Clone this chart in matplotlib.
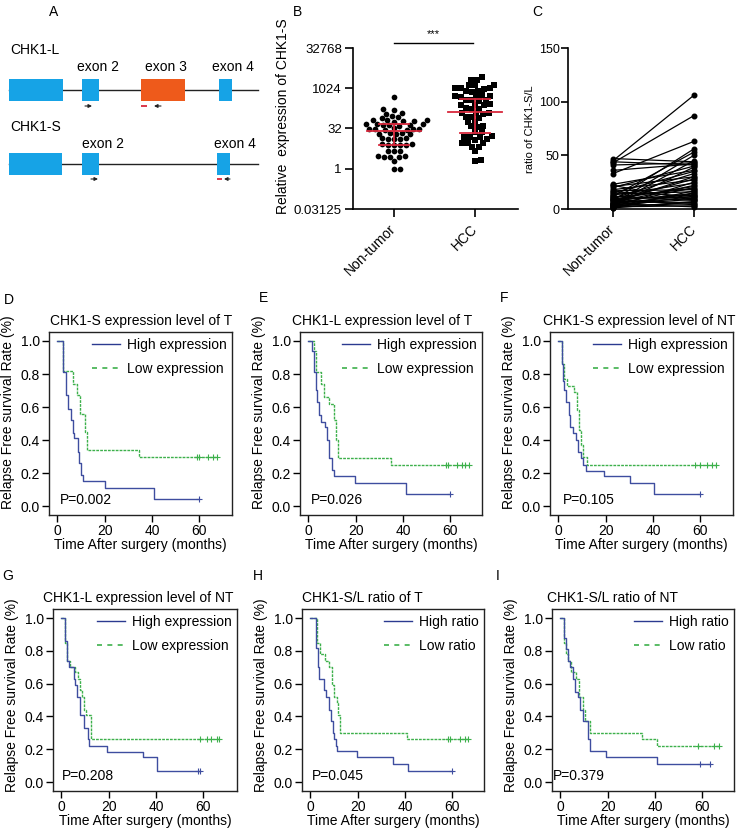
import matplotlib
matplotlib.use('Agg')
import matplotlib.pyplot as plt
from matplotlib.lines import Line2D
from matplotlib.patches import Rectangle
import numpy as np

plt.rcParams['font.family'] = ['Liberation Sans', 'DejaVu Sans']

# ---------------- data ----------------
# Panel A schematic (exon spans in schematic units)
L_exon_start = [9, 82, 141, 219]
L_exon_end = [63, 99, 185, 232]
L_exon_is_exon3 = [False, False, True, False]
L_labels = ['exon 2', 'exon 3', 'exon 4']
L_label_x = [77, 145, 212]
S_exon_start = [9, 82, 217]
S_exon_end = [62, 99, 230]
S_labels = ['exon 2', 'exon 4']
S_label_x = [82, 214]

# Panel B: log2 relative expression of CHK1-S
nt_log2 = [8.9, 7.4, 7.3, 6.8, 6.9, 6.4, 6.5, 6.3,
           6.0, 5.95, 5.9, 6.05, 5.85, 6.0,
           5.5, 5.45, 5.4, 5.5, 5.35, 5.55, 5.45,
           4.9, 4.95, 4.85, 5.0, 4.9, 4.8, 4.95,
           4.35, 4.4, 4.3, 4.35, 4.4,
           3.75, 3.8, 3.7, 3.75, 3.8,
           3.0, 3.05, 2.95, 3.0, 3.05, 2.95,
           2.2, 2.25, 2.15,
           1.5, 1.55, 1.45, 1.5, 1.6,
           1.0, 0.0, 0.0]
hcc_log2 = [11.4, 11.0, 11.05, 10.4, 10.45, 10.35,
            10.0, 10.05, 9.95, 10.0, 9.6, 9.65, 9.55,
            9.0, 9.05, 8.95, 9.0, 9.1, 8.5, 8.55, 8.45, 8.5,
            7.95, 8.0, 7.9, 7.95, 7.45, 7.5, 7.4,
            6.9, 6.95, 6.85, 6.9, 6.4, 6.45, 6.35,
            5.8, 5.85, 5.25, 5.3, 5.2, 4.55, 4.6,
            4.0, 4.05, 3.95, 4.0, 3.6, 3.65,
            3.2, 3.25, 3.15, 2.7, 2.75, 2.15, 1.0, 1.05]
nt_center, nt_upper, nt_lower = 4.75, 5.5, 3.0
hcc_center, hcc_upper, hcc_lower = 7.1, 8.7, 4.4
groups = ['Non-tumor', 'HCC']

# Panel C: paired CHK1-S/L ratio
nt_ratio = [45, 43, 33, 8, 12, 5, 47, 41, 36, 44, 20, 3, 23, 15, 10, 21, 7, 18, 2, 13,
            6, 9, 4, 11, 17, 1, 14, 3, 8, 5, 2, 10, 6, 4, 12, 1, 7, 3, 9, 2, 5, 16, 22, 6, 4]
hcc_ratio = [106, 87, 63, 56, 53, 50, 44, 43, 42, 41, 40, 39, 36, 35, 33, 30, 28, 27, 25, 24,
             22, 21, 20, 19, 18, 17, 16, 15, 14, 13, 12, 11, 10, 9, 8, 7, 6, 5, 4, 3, 2, 12, 8, 30, 45]

# Panels D-I: Kaplan-Meier curves (event times in months, survival after event)
d_high_t = [2.5, 3.5, 4.6, 5.6, 6.5, 7.0, 8.6, 9.2, 9.9, 10.7, 20.1, 40.8]
d_high_s = [0.81, 0.67, 0.59, 0.52, 0.44, 0.41, 0.33, 0.26, 0.19, 0.15, 0.11, 0.04]
d_high_c = [59.6]
d_low_t = [2.5, 6.8, 8.5, 9.6, 11.7, 12.4, 34.6]
d_low_s = [0.82, 0.74, 0.67, 0.56, 0.45, 0.34, 0.30]
d_low_c = [58.9, 59.6, 63.4, 65.9, 67.3]

e_high_t = [1.7, 2.6, 3.1, 3.8, 4.5, 5.2, 7.0, 8.1, 8.8, 9.9, 10.9, 19.9, 41.1]
e_high_s = [0.94, 0.81, 0.70, 0.63, 0.55, 0.51, 0.48, 0.40, 0.29, 0.22, 0.18, 0.14, 0.07]
e_high_c = [59.6]
e_low_t = [2.4, 3.1, 5.2, 6.6, 8.8, 10.9, 11.9, 12.6, 35.0]
e_low_s = [0.94, 0.81, 0.74, 0.66, 0.62, 0.52, 0.40, 0.29, 0.25]
e_low_c = [58.0, 59.0, 62.7, 64.8, 66.2, 67.7]

f_high_t = [1.4, 2.0, 2.4, 3.3, 4.4, 5.0, 6.1, 7.5, 8.5, 9.5, 10.4, 11.8, 19.4, 30.2, 40.4]
f_high_s = [0.86, 0.76, 0.70, 0.63, 0.55, 0.48, 0.44, 0.40, 0.33, 0.29, 0.25, 0.21, 0.18, 0.14, 0.07]
f_high_c = [59.6]
f_low_t = [1.4, 2.4, 3.8, 6.7, 8.1, 8.7, 9.5, 10.6, 12.0]
f_low_s = [0.86, 0.77, 0.73, 0.69, 0.58, 0.46, 0.37, 0.30, 0.25]
f_low_c = [57.7, 60.0, 62.9, 65.0, 66.7]

g_high_t = [1.7, 2.5, 3.2, 5.2, 5.9, 6.6, 8.0, 9.4, 11.1, 11.9, 19.3, 34.5, 40.4]
g_high_s = [0.86, 0.74, 0.70, 0.63, 0.59, 0.52, 0.41, 0.33, 0.26, 0.22, 0.18, 0.15, 0.07]
g_high_c = [57.6, 58.7]
g_low_t = [1.7, 2.4, 3.8, 5.9, 6.9, 8.0, 8.7, 9.4, 10.6, 12.5]
g_low_s = [0.85, 0.74, 0.70, 0.67, 0.63, 0.56, 0.52, 0.44, 0.41, 0.26]
g_low_c = [58.5, 61.3, 63.0, 65.5, 66.5]

h_high_t = [2.5, 3.1, 3.7, 5.6, 6.7, 7.7, 8.7, 9.4, 10.1, 10.7, 11.2, 19.7, 34.8, 41.2]
h_high_s = [0.82, 0.70, 0.63, 0.56, 0.52, 0.44, 0.37, 0.30, 0.26, 0.22, 0.19, 0.15, 0.11, 0.07]
h_high_c = [59.7]
h_low_t = [2.8, 3.9, 6.3, 8.1, 9.1, 10.1, 11.2, 11.9, 12.6, 40.7]
h_low_s = [0.85, 0.78, 0.74, 0.70, 0.59, 0.52, 0.48, 0.41, 0.30, 0.26]
h_low_c = [58.3, 59.0, 63.2, 65.3, 66.7]

i_high_t = [1.7, 2.2, 3.1, 4.2, 5.3, 6.3, 7.3, 8.4, 9.6, 11.6, 12.4, 19.4, 40.8]
i_high_s = [0.88, 0.81, 0.74, 0.70, 0.63, 0.55, 0.52, 0.44, 0.37, 0.26, 0.19, 0.15, 0.11]
i_high_c = [58.8, 63.0]
i_low_t = [1.7, 2.2, 3.1, 4.5, 6.7, 8.1, 9.6, 10.5, 12.4, 34.5, 40.8]
i_low_s = [0.85, 0.78, 0.74, 0.67, 0.63, 0.52, 0.44, 0.37, 0.30, 0.26, 0.22]
i_low_c = [57.9, 65.0, 66.8]

km_titles = ['CHK1-S expression level of T', 'CHK1-L expression level of T',
             'CHK1-S expression level of NT', 'CHK1-L expression level of NT',
             'CHK1-S/L ratio of T', 'CHK1-S/L ratio of NT']
km_pvals = ['P=0.002', 'P=0.026', 'P=0.105', 'P=0.208', 'P=0.045', 'P=0.379']
km_legend = [('High expression', 'Low expression')] * 4 + [('High ratio', 'Low ratio')] * 2

# ---------------- figure ----------------
W, H = 742, 838
fig = plt.figure(figsize=(W / 100, H / 100), dpi=100)


def add_ax(x0, y0, x1, y1):
    return fig.add_axes([x0 / W, 1 - y1 / H, (x1 - x0) / W, (y1 - y0) / H])


def ftext(x, y, s, **kw):
    fig.text(x / W, 1 - y / H, s, **kw)


BLUE_EX = '#16A3E6'
ORANGE = '#EE5A1B'
RED = '#D8283C'

# ---- Panel A ----
axA = add_ax(0, 0, 270, 200)
axA.set_xlim(0, 270)
axA.set_ylim(200, 0)
axA.axis('off')


def draw_isoform(ax, yline, starts, ends, colors, name, yname, labels, label_x, ylab):
    ax.plot([starts[0], 258], [yline, yline], color='#222222', lw=1.0, zorder=1)
    for s, e, c in zip(starts, ends, colors):
        ax.add_patch(Rectangle((s, yline - 10.5), e - s, 21.5, facecolor=c, edgecolor='none', zorder=2))
    ax.text(10, yname, name, fontsize=10, va='center', ha='left')
    for lab, lx in zip(labels, label_x):
        ax.text(lx, ylab, lab, fontsize=10, va='center', ha='left')


draw_isoform(axA, 90, L_exon_start, L_exon_end,
             [ORANGE if e3 else BLUE_EX for e3 in L_exon_is_exon3],
             'CHK1-L', 50, L_labels, L_label_x, 67)
draw_isoform(axA, 164, S_exon_start, S_exon_end, [BLUE_EX] * 3,
             'CHK1-S', 127, S_labels, S_label_x, 144)


def primer(ax, x0, x1, y, kind):
    if kind == 'dash':
        ax.plot([x0, x1], [y, y], color=RED, lw=1.3, solid_capstyle='butt')
    else:
        a, b = (x0, x1) if kind == 'right' else (x1, x0)
        ax.annotate('', xy=(b, y), xytext=(a, y),
                    arrowprops=dict(arrowstyle='-|>', lw=0.8, color='#222222',
                                    mutation_scale=5, shrinkA=0, shrinkB=0))


primer(axA, L_exon_start[1] + 3, L_exon_start[1] + 10, 106, 'right')
primer(axA, L_exon_start[2], L_exon_start[2] + 6, 106, 'dash')
primer(axA, L_exon_start[2] + 13, L_exon_start[2] + 20, 106, 'left')
primer(axA, S_exon_start[1] + 9, S_exon_start[1] + 16, 179, 'right')
primer(axA, S_exon_start[2], S_exon_start[2] + 5, 179, 'dash')
primer(axA, S_exon_start[2] + 7, S_exon_start[2] + 13, 179, 'left')

# ---- Panel B ----
axB = add_ax(353, 48, 518, 209)
axB.set_yscale('log', base=2)
axB.set_ylim(2 ** -5, 2 ** 15)
axB.set_xlim(-0.506, 1.53)
axB.minorticks_off()
yt = [2 ** -5, 1, 32, 1024, 32768]
axB.set_yticks(yt)
axB.set_yticklabels(['0.03125', '1', '32', '1024', '32768'])
for sp in ['top', 'right']:
    axB.spines[sp].set_visible(False)
for sp in ['left', 'bottom']:
    axB.spines[sp].set_linewidth(1.2)
axB.tick_params(length=6, width=1.2, labelsize=9.5, pad=2)
axB.set_xticks([0, 1])
axB.set_xticklabels(groups, rotation=45, ha='right', va='center',
                    rotation_mode='anchor', fontsize=10)
axB.tick_params(axis='x', pad=7)
axB.set_ylabel('Relative  expression of CHK1-S', fontsize=10)
axB.yaxis.set_label_coords(-0.382, 0.578)

XPX = 165 / (1.53 + 0.506)   # px per x unit
YPX = 161 / 20.0             # px per log2 unit


def swarm_offsets(vals, d=5.6):
    order = np.argsort(vals)
    placed = []
    offs = np.zeros(len(vals))
    steps = np.arange(0.5, 60, 0.5)
    cands = np.concatenate([[0], np.ravel(np.column_stack([steps, -steps]))])
    for idx in order:
        y = vals[idx] * YPX
        for c in cands:
            ok = True
            for (px, py) in placed:
                if (c - px) ** 2 + (y - py) ** 2 < d * d:
                    ok = False
                    break
            if ok:
                offs[idx] = c
                placed.append((c, y))
                break
    return offs / XPX


for gi, (vals, mk, ms, cen, up, lo) in enumerate([
        (nt_log2, 'o', 17, nt_center, nt_upper, nt_lower),
        (hcc_log2, 's', 14, hcc_center, hcc_upper, hcc_lower)]):
    v = np.array(vals)
    xo = swarm_offsets(v)
    axB.scatter(gi + xo, 2 ** v, marker=mk, s=ms, color='black', linewidths=0, zorder=2)
    axB.plot([gi - 0.33, gi + 0.33], [2 ** cen] * 2, color=RED, lw=1.3, zorder=3)
    axB.plot([gi - 0.18, gi + 0.18], [2 ** up] * 2, color=RED, lw=1.3, zorder=3)
    axB.plot([gi - 0.18, gi + 0.18], [2 ** lo] * 2, color=RED, lw=1.3, zorder=3)
    axB.plot([gi, gi], [2 ** lo, 2 ** up], color=RED, lw=1.3, zorder=3)

axB.plot([0, 0.97], [2 ** 15.62] * 2, color='black', lw=1.0, clip_on=False)
axB.text(0.48, 2 ** 16.75, '***', ha='center', va='center', fontsize=8)

# ---- Panel C ----
axC = add_ax(568, 48, 736, 209)
axC.set_xlim(-0.556, 1.52)
axC.set_ylim(0, 150)
axC.set_yticks([0, 50, 100, 150])
for sp in ['top', 'right']:
    axC.spines[sp].set_visible(False)
for sp in ['left', 'bottom']:
    axC.spines[sp].set_linewidth(1.2)
axC.tick_params(axis='y', length=5, width=1.2, labelsize=9, pad=1)
axC.tick_params(axis='x', length=6, width=1.2)
axC.set_xticks([0, 1])
axC.set_xticklabels(groups, rotation=45, ha='right', va='center',
                    rotation_mode='anchor', fontsize=10)
axC.tick_params(axis='x', pad=7)
for a, b in zip(nt_ratio, hcc_ratio):
    axC.plot([0, 1], [a, b], color='black', lw=0.9, marker='o', ms=3.3, clip_on=False)
axC.set_ylabel('ratio of CHK1-S/L', fontsize=8)
axC.yaxis.set_label_coords(-0.195, 0.497)

# ---- Panel letters ----
for lab, x, y in [('A', 54, 12), ('B', 297, 12), ('C', 537, 12),
                  ('D', 9, 300), ('E', 263, 298), ('F', 504, 298),
                  ('G', 8, 576), ('H', 258, 576), ('I', 498, 576)]:
    ftext(x, y, lab, fontsize=10, ha='center', va='center')

# ---- KM panels ----
BLUE = '#3E4D9F'
GREEN = '#3DB04B'

km_high = [(d_high_t, d_high_s, d_high_c), (e_high_t, e_high_s, e_high_c), (f_high_t, f_high_s, f_high_c),
           (g_high_t, g_high_s, g_high_c), (h_high_t, h_high_s, h_high_c), (i_high_t, i_high_s, i_high_c)]
km_low = [(d_low_t, d_low_s, d_low_c), (e_low_t, e_low_s, e_low_c), (f_low_t, f_low_s, f_low_c),
          (g_low_t, g_low_s, g_low_c), (h_low_t, h_low_s, h_low_c), (i_low_t, i_low_s, i_low_c)]

boxes = [(49, 332, 232, 515), (300, 332, 482, 515), (550, 332, 733, 515),
         (53, 609, 237, 791), (302, 609, 484, 791), (552, 609, 734, 791)]
title_left = [50, 292, 543, 43, 302, 547]
p_off = [11, 11, 13, 9, 10, 1]
ylab_center = [412, 412, 412, 695, 695, 695]


def km_curve(ax, t, s, c, color, ls, lw):
    end = max(c)
    tt = [0] + list(t) + [end]
    ss = [1.0] + list(s) + [s[-1]]
    ax.step(tt, ss, where='post', color=color, linestyle=ls, lw=lw)
    cs = [ss[np.searchsorted(tt, ci, side='right') - 1] for ci in c]
    ax.plot(c, cs, linestyle='none', marker='+', ms=4, mew=0.8, color=color)


for k in range(6):
    x0, y0, x1, y1 = boxes[k]
    ax = add_ax(x0, y0, x1, y1)
    w, h = x1 - x0, y1 - y0
    ax.set_xlim(-3.5, -3.5 + w / 2.37)
    ax.set_ylim(-9 / (h - 18), 1 + 9 / (h - 18))
    ax.set_xticks([0, 20, 40, 60])
    ax.set_yticks([0, 0.2, 0.4, 0.6, 0.8, 1.0])
    ax.set_yticklabels(['0.0', '0.2', '0.4', '0.6', '0.8', '1.0'])
    for sp in ax.spines.values():
        sp.set_linewidth(1.0)
        sp.set_color('#222222')
    ax.tick_params(length=5, width=1.0, labelsize=10, pad=1.5)
    ht, hs, hc = km_high[k]
    lt, ls_, lc = km_low[k]
    km_curve(ax, lt, ls_, lc, GREEN, (0, (2.0, 0.8)), 1.0)
    km_curve(ax, ht, hs, hc, BLUE, '-', 1.0)
    handles = [Line2D([], [], color='#2B3A90', lw=1.0),
               Line2D([], [], color=GREEN, lw=1.2, dashes=(3, 3.2))]
    ax.legend(handles, km_legend[k], loc='upper right', frameon=False, fontsize=10,
              handlelength=2.0, handletextpad=0.5, labelspacing=0.75,
              borderaxespad=0.2, borderpad=0.2)
    ax.text(p_off[k] / w, 15 / h, km_pvals[k], transform=ax.transAxes,
            fontsize=10, ha='left', va='center')
    ax.text((title_left[k] - x0) / w, 1 + 4 / h, km_titles[k], transform=ax.transAxes,
            fontsize=10, ha='left', va='bottom')
    ax.set_ylabel('Relapse Free survival Rate (%)', fontsize=10)
    ax.yaxis.set_label_coords(-34 / w, (y1 - ylab_center[k]) / h)
    ax.set_xlabel('Time After surgery (months)', fontsize=10, labelpad=0)

fig.savefig('out.png', dpi=100)
